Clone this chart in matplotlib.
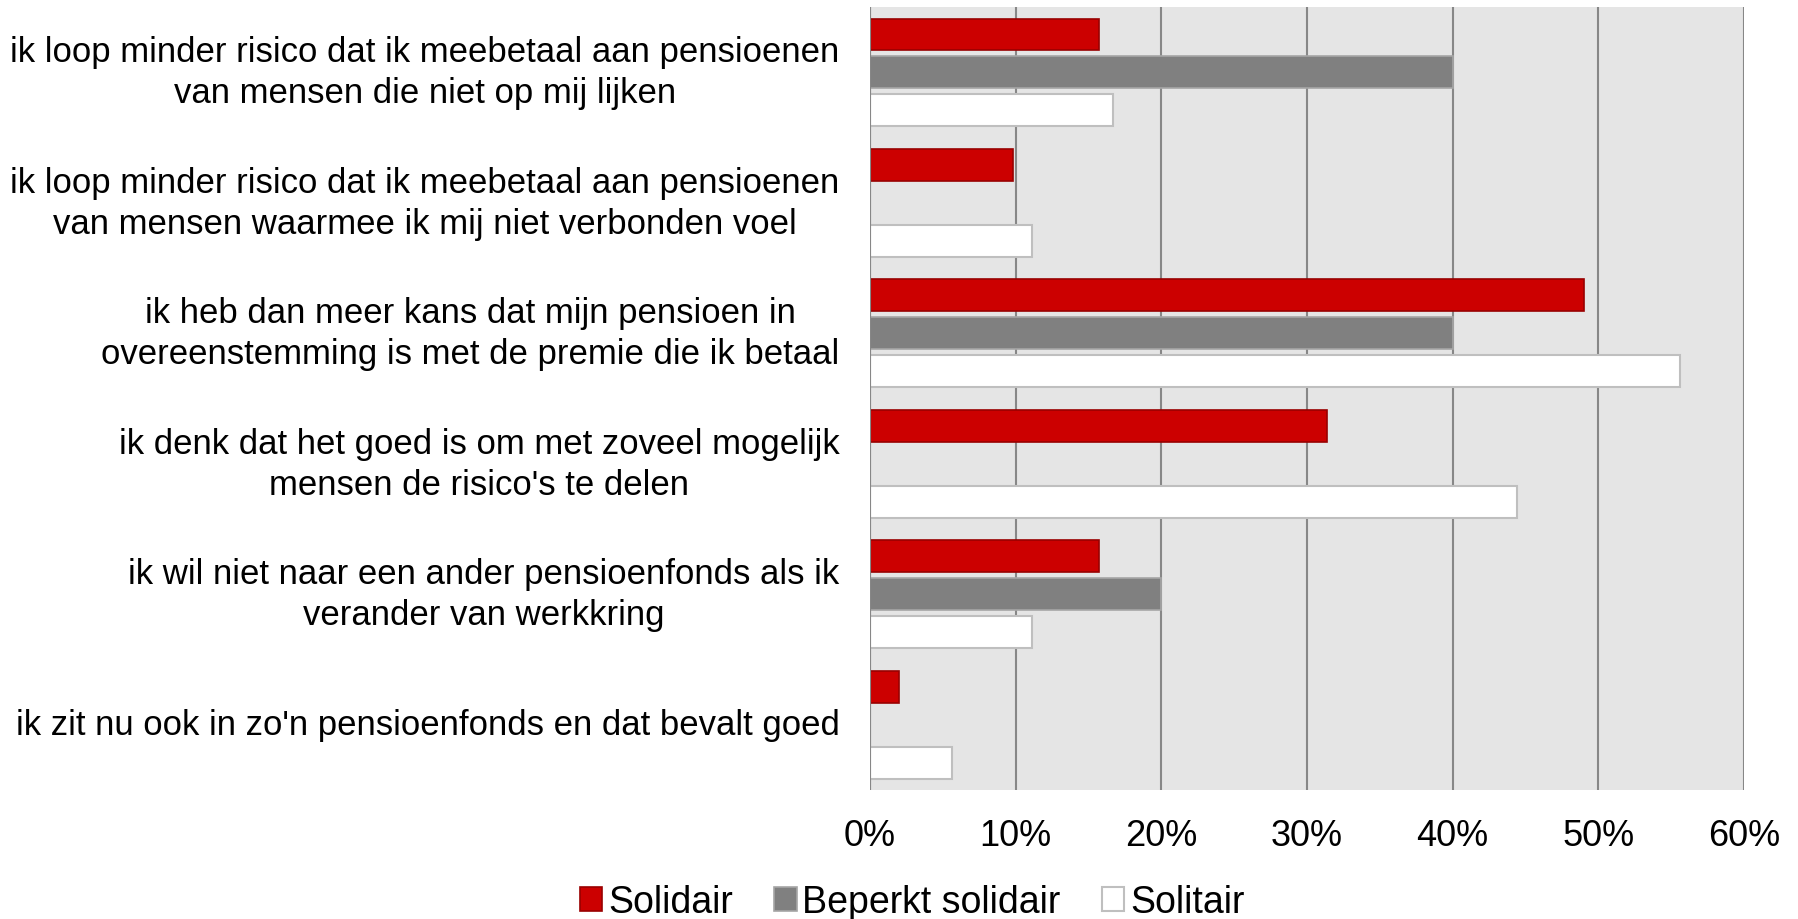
import matplotlib.pyplot as plt
import numpy as np

plt.rcParams['font.family'] = ['Liberation Sans', 'DejaVu Sans']

categories = [
    'ik loop minder risico dat ik meebetaal aan pensioenen\nvan mensen die niet op mij lijken',
    'ik loop minder risico dat ik meebetaal aan pensioenen\nvan mensen waarmee ik mij niet verbonden voel',
    'ik heb dan meer kans dat mijn pensioen in\novereenstemming is met de premie die ik betaal',
    "ik denk dat het goed is om met zoveel mogelijk\nmensen de risico's te delen",
    'ik wil niet naar een ander pensioenfonds als ik\nverander van werkkring',
    "ik zit nu ook in zo'n pensioenfonds en dat bevalt goed",
]
solidair = [15.7, 9.8, 49.0, 31.4, 15.7, 2.0]
beperkt_solidair = [40.0, 0.0, 40.0, 0.0, 20.0, 0.0]
solitair = [16.7, 11.1, 55.6, 44.4, 11.1, 5.6]
series_names = ['Solidair', 'Beperkt solidair', 'Solitair']
xticks = [0, 10, 20, 30, 40, 50, 60]

fig = plt.figure(figsize=(17.99, 9.2), dpi=100)
ax = fig.add_axes([0.4836, 0.1402, 0.4858, 0.851])

y = np.arange(len(categories))
pitch = 0.29
h = 0.245
ax.barh(y - pitch, solidair, height=h, color='#cc0000', edgecolor='#990000',
        linewidth=1.2, label=series_names[0], zorder=3)
ax.barh(y, beperkt_solidair, height=h, color='#808080', edgecolor='#a6a6a6',
        linewidth=1.2, label=series_names[1], zorder=3)
ax.barh(y + pitch, solitair, height=h, color='white', edgecolor='#bfbfbf',
        linewidth=1.5, label=series_names[2], zorder=3)

ax.set_ylim(len(categories) - 0.5, -0.5)
ax.set_xlim(0, 60)
ax.set_facecolor('#e5e5e5')
ax.set_xticks(xticks)
ax.set_xticklabels([f'{t}%' for t in xticks], fontsize=26)
ax.set_yticks(y)
ax.set_yticklabels(categories, fontsize=25, multialignment='center',
                   linespacing=1.3, va='center')
for lbl in ax.get_yticklabels():
    lbl.set_y(lbl.get_position()[1])
ax.tick_params(axis='both', length=0)
ax.tick_params(axis='x', pad=20)
ax.tick_params(axis='y', pad=22)
ax.grid(axis='x', color='#878787', linewidth=1.5, zorder=0)
for s in ax.spines.values():
    s.set_visible(False)
ax.axvline(0, color='#878787', linewidth=1.5, zorder=4)

leg = fig.legend(loc='center', bbox_to_anchor=(0.507, 0.018), ncol=3, frameon=False,
                 fontsize=27, handlelength=0.6, handleheight=0.6, handletextpad=0.15,
                 columnspacing=1.1)

fig.savefig('out.png', dpi=100)
